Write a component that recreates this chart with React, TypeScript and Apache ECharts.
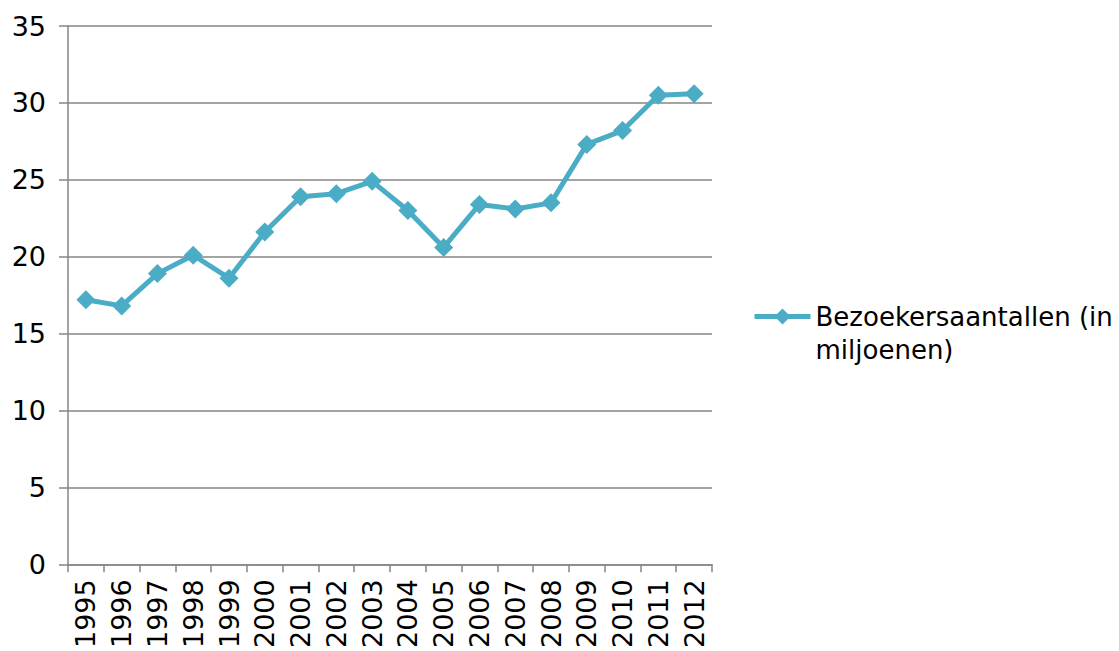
import React, { useEffect, useRef } from "react";
import * as echarts from "echarts";

const years = ["1995","1996","1997","1998","1999","2000","2001","2002","2003","2004","2005","2006","2007","2008","2009","2010","2011","2012"];
const visitors = [17.2, 16.8, 18.9, 20.1, 18.6, 21.6, 23.9, 24.1, 24.9, 23.0, 20.6, 23.4, 23.1, 23.5, 27.3, 28.2, 30.5, 30.6];
const seriesName = "Bezoekersaantallen (in miljoenen)";
const legendLabel = "\nBezoekersaantallen (in\nmiljoenen)";

export default function App() {
  const ref = useRef<HTMLDivElement>(null);
  useEffect(() => {
    const chart = echarts.init(ref.current!, null, { renderer: "svg" });
    const font = "DejaVu Sans, Verdana, sans-serif";
    chart.setOption({
      animation: false,
      backgroundColor: "#ffffff",
      grid: { left: 68, right: 407, top: 26, bottom: 86, containLabel: false },
      xAxis: {
        type: "category",
        data: years,
        boundaryGap: true,
        axisLine: { lineStyle: { color: "#868686", width: 1.5 } },
        axisTick: { show: true, length: 8, alignWithLabel: false, lineStyle: { color: "#868686", width: 1.5 } },
        axisLabel: { rotate: 90, margin: 15, color: "#000", fontFamily: font, fontSize: 27, interval: 0 },
      },
      yAxis: {
        type: "value",
        min: 0,
        max: 35,
        interval: 5,
        axisLine: { show: true, lineStyle: { color: "#868686", width: 1.5 } },
        axisTick: { show: true, length: 9, lineStyle: { color: "#868686", width: 1.5 } },
        splitLine: { show: true, lineStyle: { color: "#868686", width: 1.5 } },
        axisLabel: { margin: 22, color: "#000", fontFamily: font, fontSize: 27 },
      },
      legend: {
        show: true,
        orient: "vertical",
        left: 752,
        top: 267,
        padding: 0,
        itemWidth: 56,
        itemHeight: 20,
        itemGap: 8,
        formatter: () => legendLabel,
        lineStyle: { width: 5, color: "#4BACC6" },
        itemStyle: { color: "#4BACC6" },
        textStyle: { color: "#000", fontFamily: font, fontSize: 26, lineHeight: 33 },
        data: [seriesName],
      },
      series: [
        {
          name: seriesName,
          type: "line",
          data: visitors,
          symbol: "diamond",
          symbolSize: 19,
          itemStyle: { color: "#4BACC6" },
          lineStyle: { color: "#4BACC6", width: 5 },
        },
      ],
    });
    return () => chart.dispose();
  }, []);
  return <div ref={ref} style={{ position: "fixed", left: 0, top: 0, width: 1119, height: 651 }} />;
}
